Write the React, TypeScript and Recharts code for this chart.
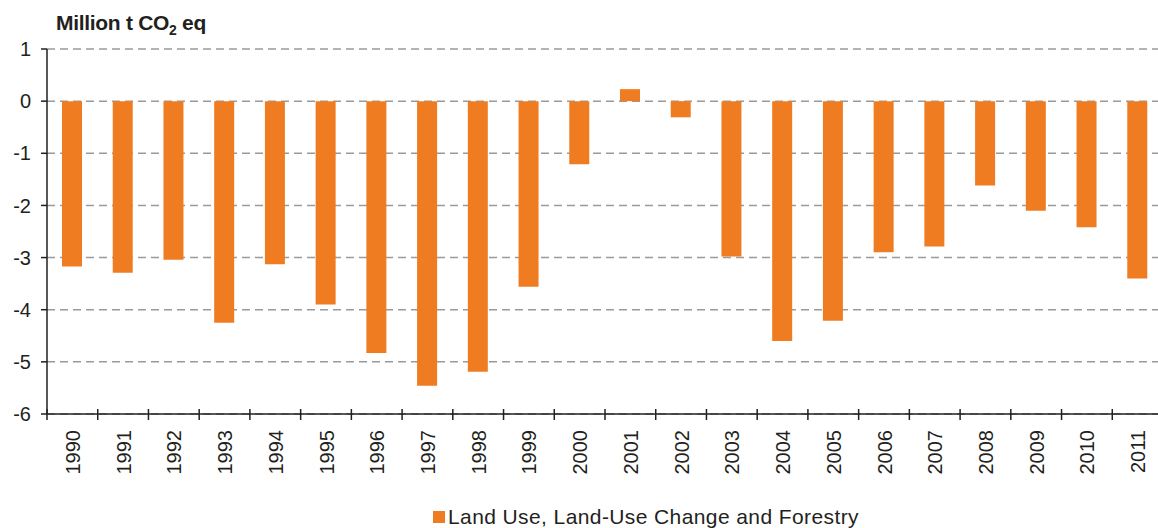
import { BarChart, Bar, XAxis, YAxis, CartesianGrid, Legend } from 'recharts';

const years = [
  '1990', '1991', '1992', '1993', '1994', '1995', '1996', '1997', '1998', '1999', '2000',
  '2001', '2002', '2003', '2004', '2005', '2006', '2007', '2008', '2009', '2010', '2011',
];
// Million t CO2 eq
const lulucf = [
  -3.17, -3.29, -3.04, -4.25, -3.13, -3.9, -4.83, -5.46, -5.19, -3.56, -1.21,
  0.23, -0.31, -2.98, -4.6, -4.21, -2.9, -2.79, -1.62, -2.1, -2.42, -3.4,
];
const yTicks = [-6, -5, -4, -3, -2, -1, 0, 1];

const data = years.map((year, i) => ({ year, value: lulucf[i] }));

const CHART_W = 1163;
const CHART_H = 528;
const AXIS_W = 47;
const BAND = (CHART_W - AXIS_W) / years.length;
const INK = '#231f20';
const ORANGE = '#f07c22';
const FONT = '"Liberation Sans", Arial, sans-serif';

function YearTick({ x, y, payload }: any) {
  const bx = x - BAND / 2;
  return (
    <g>
      <line x1={bx} x2={bx} y1={y - 5} y2={y + 6} stroke={INK} strokeWidth={1.5} />
      <text
        transform={`translate(${x + 7.5},${y + 16}) rotate(-90)`}
        textAnchor="end"
        fill={INK}
        fontSize={20}
        fontFamily={FONT}
      >
        {payload.value}
      </text>
    </g>
  );
}

function LegendBox() {
  return (
    <div
      style={{
        display: 'flex', alignItems: 'center', paddingLeft: 433, fontFamily: FONT,
        fontSize: 21, letterSpacing: 0.4, color: INK, lineHeight: '22px',
      }}
    >
      <span style={{ display: 'inline-block', width: 12, height: 12, background: ORANGE, marginRight: 3 }} />
      <span>Land Use, Land-Use Change and Forestry</span>
    </div>
  );
}

export default function App() {
  return (
    <div style={{ position: 'absolute', left: 0, top: 0, width: 1158, height: CHART_H, overflow: 'hidden', background: '#fff' }}>
      <div
        style={{
          position: 'absolute', left: 56, top: 11, fontFamily: FONT, fontWeight: 'bold',
          fontSize: 21, letterSpacing: -0.3, color: INK, zIndex: 2, lineHeight: '24px',
        }}
      >
        Million t CO<sub style={{ fontSize: 14, lineHeight: 0 }}>2</sub> eq
      </div>
      <BarChart
        width={CHART_W}
        height={CHART_H}
        data={data}
        margin={{ top: 49, right: 0, left: 0, bottom: 84 }}
      >
        <CartesianGrid horizontal vertical={false} stroke="#9a9a9a" strokeWidth={1.5} strokeDasharray="8 5" />
        <XAxis
          dataKey="year"
          tick={<YearTick />}
          tickLine={false}
          tickSize={0}
          tickMargin={0}
          interval={0}
          axisLine={{ stroke: INK, strokeWidth: 1.5 }}
        />
        <YAxis
          width={AXIS_W}
          domain={[-6, 1]}
          ticks={yTicks}
          interval={0}
          tickSize={6}
          tickMargin={10}
          tickLine={{ stroke: INK, strokeWidth: 1.5 }}
          axisLine={{ stroke: INK, strokeWidth: 1.5 }}
          tick={{ fill: INK, fontSize: 20, fontFamily: FONT }}
        />
        <Legend
          verticalAlign="middle"
          content={<LegendBox />}
          wrapperStyle={{ top: 506, left: 0, width: 1158 }}
        />
        <Bar dataKey="value" fill={ORANGE} barSize={20} isAnimationActive={false} />
      </BarChart>
    </div>
  );
}
